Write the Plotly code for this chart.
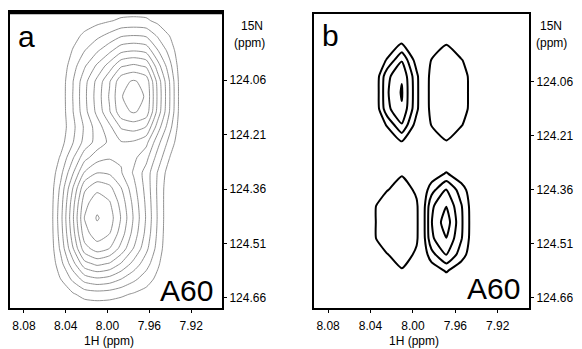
import plotly.graph_objects as go

W, H = 582, 349

# ---------------- data ----------------
# panel a: 1H (x) and 15N (y) sampling of the spectrum
xa = [8.057, 8.045, 8.033, 8.022, 8.010, 7.998, 7.987, 7.975, 7.963, 7.952, 7.940, 7.928, 7.916]
ya = [123.854, 123.896, 123.937, 123.979, 124.021, 124.063, 124.105, 124.147, 124.189, 124.231,
      124.273, 124.315, 124.357, 124.398, 124.440, 124.482, 124.524, 124.566, 124.608, 124.650, 124.692]
# upper peak: 1H slice, 15N slice (relative) and height
upper_height = 9.4
upper_x = [0, 0.037, 0.217, 0.398, 0.578, 0.759, 0.952, 1.0, 0.947, 0.617, 0.309, 0, 0]
upper_y = [0.04, 0.13, 0.32, 0.53, 0.77, 0.97, 1.0, 0.97, 0.77, 0.53, 0.32, 0.13, 0.04, 0.01,
           0, 0, 0, 0, 0, 0, 0]
# lower peak
lower_height = 10.1
lower_x = [0, 0.257, 0.584, 0.896, 1.0, 0.941, 0.785, 0.584, 0.386, 0.188, 0, 0, 0]
lower_y = [0, 0, 0, 0, 0, 0, 0, 0, 0.03, 0.15, 0.38, 0.62, 0.84, 0.95, 1.0, 0.95, 0.84, 0.62,
           0.38, 0.15, 0.03]

# panel b: anti-phase multiplets, intensities on the sampled grid
xb = [8.0525, 8.0385, 8.0245, 8.0105, 7.9965, 7.9825, 7.9685, 7.9545, 7.9405, 7.9265]
yb = [123.865, 123.91, 123.955, 124.0, 124.045, 124.09, 124.135, 124.18, 124.225, 124.27,
      124.315, 124.36, 124.405, 124.45, 124.495, 124.54, 124.585, 124.63, 124.675]
zb = [
    [0, 0, 0, 0, 0, 0, 0, 0, 0, 0],
    [0, 0, 0, 0, 0, 0, 0, 0, 0, 0],
    [0, 0, 0, 1.05, 0, 0, -0.95, 0, 0, 0],
    [0, -0.3, 1.1, 2.91, 0.5, -1.05, -2.0, -1.1, 0, 0],
    [0, -0.5, 2.7, 3.91, 1.25, -1.45, -2.6, -1.8, 0, 0],
    [0, -0.5, 2.86, 4.1, 1.3, -1.5, -3.0, -1.85, 0, 0],
    [0, -0.5, 2.7, 3.91, 1.25, -1.45, -2.6, -1.8, 0, 0],
    [0, -0.3, 1.1, 2.91, 0.5, -1.05, -2.0, -1.1, 0, 0],
    [0, 0, 0, 1.05, 0, 0, -0.95, 0, 0, 0],
    [0, 0, 0, 0, 0, 0, 0, 0, 0, 0],
    [0, 0, 0, -0.85, 0, 0.3, 1.1, 0.3, 0, 0],
    [0, -0.3, -0.9, -1.8, -0.7, 1.6, 3.05, 1.5, 0, 0],
    [0, -0.6, -2.1, -2.4, -1.25, 2.8, 3.97, 2.1, 0, 0],
    [0, -0.6, -2.2, -2.7, -1.3, 2.95, 4.6, 2.2, 0, 0],
    [0, -0.6, -2.1, -2.4, -1.25, 2.8, 3.97, 2.1, 0, 0],
    [0, -0.3, -0.9, -1.8, -0.7, 1.6, 3.05, 1.5, 0, 0],
    [0, 0, 0, -0.85, 0, 0.3, 1.1, 0.3, 0, 0],
    [0, 0, 0, 0, 0, 0, 0, 0, 0, 0],
    [0, 0, 0, 0, 0, 0, 0, 0, 0, 0],
]

x_ticks = [8.08, 8.04, 8.00, 7.96, 7.92]
x_ticktext = ["8.08", "8.04", "8.00", "7.96", "7.92"]
y_ticks = [124.06, 124.21, 124.36, 124.51, 124.66]
y_ticktext = ["124.06", "124.21", "124.36", "124.51", "124.66"]

# ---------------- tables ----------------
za = [[upper_height * gu * fu + lower_height * gl * fl
       for fu, fl in zip(upper_x, lower_x)]
      for gu, gl in zip(upper_y, lower_y)]
zb_neg = [[-v for v in row] for row in zb]

FONT = "Liberation Sans, Arial, Helvetica, sans-serif"

fig = go.Figure()
fig.add_trace(go.Contour(
    x=xa, y=ya, z=za, xaxis="x", yaxis="y",
    contours=dict(start=1, end=10, size=1, coloring="lines"),
    colorscale=[[0, "#858585"], [1, "#858585"]], showscale=False,
    line=dict(width=0.9, smoothing=0.6), hoverinfo="skip"))
fig.add_trace(go.Contour(
    x=xb, y=yb, z=zb, xaxis="x2", yaxis="y2",
    contours=dict(start=1, end=4, size=1, coloring="lines"),
    colorscale=[[0, "black"], [1, "black"]], showscale=False,
    line=dict(width=2, smoothing=0.5), hoverinfo="skip"))
fig.add_trace(go.Contour(
    x=xb, y=yb, z=zb_neg, xaxis="x2", yaxis="y2",
    contours=dict(start=1, end=1, size=1, coloring="lines"),
    colorscale=[[0, "black"], [1, "black"]], showscale=False,
    line=dict(width=2, smoothing=0.5), hoverinfo="skip"))


def px(x):
    return x / W


def py(y):
    return 1 - y / H


xrange_ = [8.0933, 7.8905]
yrange_ = [124.688, 123.872]

common_x = dict(range=xrange_, tickvals=x_ticks, ticktext=x_ticktext, ticks="outside",
                ticklen=3, tickwidth=1, tickcolor="black", showline=True, mirror=True,
                linecolor="black", linewidth=2, showgrid=False, zeroline=False,
                ticklabelstandoff=3,
                tickfont=dict(family=FONT, size=12, color="black"))
common_y = dict(range=yrange_, tickvals=y_ticks, ticktext=y_ticktext, ticks="outside",
                ticklen=3, tickwidth=1, tickcolor="black", showline=True, mirror=True,
                linecolor="black", linewidth=2, showgrid=False, zeroline=False, side="right",
                tickfont=dict(family=FONT, size=12, color="black"))

fig.update_layout(
    width=W, height=H, margin=dict(l=0, r=0, t=0, b=0),
    paper_bgcolor="white", plot_bgcolor="white", showlegend=False,
    xaxis=dict(domain=[px(10), px(222)], anchor="y", **common_x),
    yaxis=dict(domain=[py(308), py(12)], anchor="x", **common_y),
    xaxis2=dict(domain=[px(314), px(529)], anchor="y2", **common_x),
    yaxis2=dict(domain=[py(308), py(14)], anchor="x2", **common_y),
)

ann = []


def add(text, x, y, size, xanchor="center"):
    ann.append(dict(text=text, x=px(x), y=py(y), xref="paper", yref="paper",
                    xanchor=xanchor, yanchor="middle", showarrow=False,
                    font=dict(family=FONT, size=size, color="black")))


add("a", 16, 36, 30, "left")
add("b", 320, 35, 30, "left")
add("A60", 215, 290, 30, "right")
add("A60", 522, 288, 30, "right")
add("15N", 252, 26, 12)
add("(ppm)", 250, 43, 12)
add("15N", 551, 26, 12)
add("(ppm)", 551, 43, 12)
add("1H (ppm)", 109, 341, 12)
add("1H (ppm)", 414, 341, 12)
fig.update_layout(annotations=ann)

fig.add_shape(type="line", xref="paper", yref="paper", x0=px(10), x1=px(222), y0=py(12.5), y1=py(12.5),
              line=dict(color="black", width=3.5))

fig.write_html("out.html", post_script="document.body.style.margin='0';",
               config={"displayModeBar": False})
